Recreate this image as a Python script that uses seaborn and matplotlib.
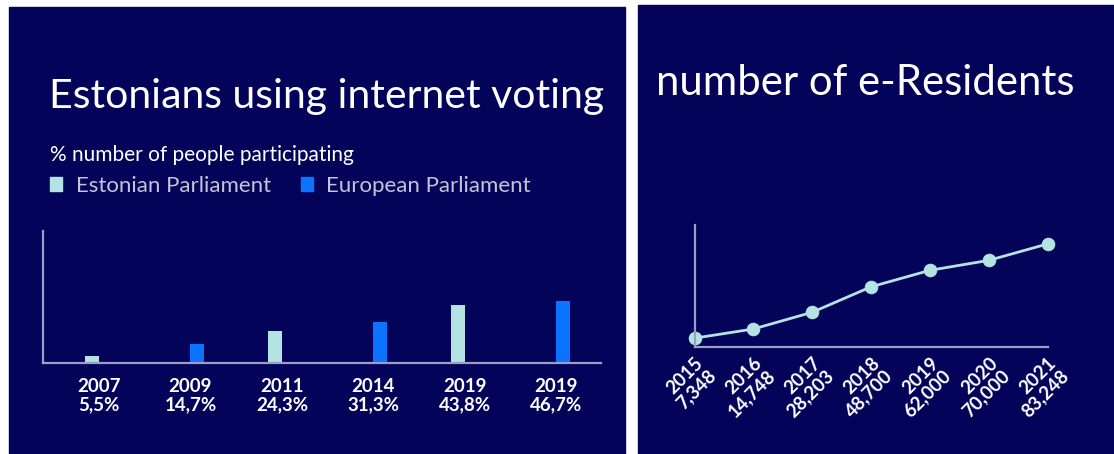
import matplotlib.pyplot as plt
import matplotlib.patches as mpatches
import pandas as pd
import seaborn as sns

# internet voting share, % of participants
vote_years = ["2007", "2009", "2011", "2014", "2019", "2019"]
vote_pct = [5.5, 14.7, 24.3, 31.3, 43.8, 46.7]
vote_body = ["Estonian Parliament", "European Parliament", "Estonian Parliament",
             "European Parliament", "Estonian Parliament", "European Parliament"]
body_order = ["Estonian Parliament", "European Parliament"]

# e-Residents per year
res_years = [2015, 2016, 2017, 2018, 2019, 2020, 2021]
res_count = [7348, 14748, 28203, 48700, 62000, 70000, 83248]

NAVY = "#03035a"
LIGHT = "#b4e3e3"
BLUE = "#0a73ff"
AXIS = "#9d9dc6"
GREY = "#c4c4d6"

W, H = 1114, 454

sns.set_theme(style="white")
plt.rcParams["font.family"] = ["Lato", "DejaVu Sans"]

fig = plt.figure(figsize=(W / 100, H / 100), dpi=100, facecolor="white")

# dark panels behind each chart
for x0, x1, top in [(9, 625, 7), (638, 1114, 5)]:
    fig.patches.append(mpatches.Rectangle((x0 / W, 0), (x1 - x0) / W, (H - top) / H,
                                          transform=fig.transFigure, color=NAVY, zorder=-10))


def px_axes(x0, x1, y_top, y_bot):
    return fig.add_axes([x0 / W, (H - y_bot) / H, (x1 - x0) / W, (y_bot - y_top) / H])


def style_axes(ax):
    ax.set_facecolor("none")
    for side in ["top", "right"]:
        ax.spines[side].set_visible(False)
    for side in ["left", "bottom"]:
        ax.spines[side].set_color(AXIS)
        ax.spines[side].set_linewidth(1.6)
    ax.set_yticks([])
    ax.set_xlabel("")
    ax.set_ylabel("")


tick_font = dict(family=["Lato", "DejaVu Sans"], weight="bold", size=13.5, color="white")

# ---- left: internet voting bars ----
ax1 = px_axes(43, 601, 231, 363)
df_vote = pd.DataFrame({
    "label": [f"{y}\n{str(p).replace('.', ',')}%" for y, p in zip(vote_years, vote_pct)],
    "pct": vote_pct,
    "body": vote_body,
})
sns.barplot(data=df_vote, x="label", y="pct", hue="body", hue_order=body_order,
            palette=[LIGHT, BLUE], width=0.3, dodge=True, saturation=1,
            linewidth=0, legend=False, ax=ax1)
ax1.set_xlim(-0.613, 5.49)
ax1.set_ylim(0, 100)
style_axes(ax1)
ax1.tick_params(axis="x", length=0, pad=11)
for t in ax1.get_xticklabels():
    t.set(**tick_font)
    t.set_linespacing(1.1)

fig.text(49 / W, (H - 108) / H, "Estonians using internet voting", color="white",
         fontsize=29.5, fontweight="normal", va="baseline")
fig.text(50 / W, (H - 155) / H, "% number of people participating", color="white",
         fontsize=15, va="center")
handles = [mpatches.Patch(color=c) for c in [LIGHT, BLUE]]
fig.legend(handles, body_order, loc="center left", bbox_to_anchor=(50 / W, (H - 186) / H),
           ncol=2, frameon=False, borderpad=0, borderaxespad=0,
           handlelength=0.55, handleheight=0.6, handletextpad=0.6,
           columnspacing=1.35, fontsize=16, labelcolor=GREY)

# ---- right: e-Residents line ----
ax2 = px_axes(694.5, 1047.5, 225, 347.3)
sns.lineplot(x=res_years, y=res_count, marker="o", color=LIGHT, linewidth=2,
             markersize=9, markeredgecolor=LIGHT, clip_on=False, ax=ax2)
ax2.set_xlim(2015, 2021)
ax2.set_ylim(0, 98500)
style_axes(ax2)
ax2.set_xticks(res_years)
ax2.set_xticklabels([f"{y}\n{c:,}" for y, c in zip(res_years, res_count)])
ax2.tick_params(axis="x", length=0, pad=5)
for t in ax2.get_xticklabels():
    t.set(**tick_font)
    t.set_linespacing(1.05)
    t.set_rotation(45)
    t.set_ha("right")
    t.set_va("top")
    t.set_rotation_mode("anchor")

fig.text(656 / W, (H - 95) / H, "number of e-Residents", color="white",
         fontsize=30.2, fontweight="normal", va="baseline")

fig.savefig("out.png", dpi=100, facecolor=fig.get_facecolor())
